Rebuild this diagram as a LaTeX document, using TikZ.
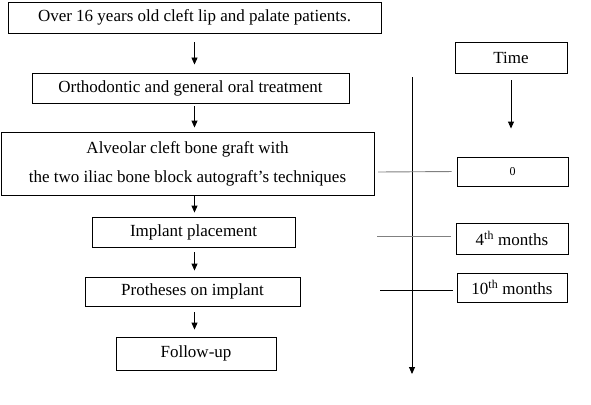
\documentclass[tikz,border=0pt]{standalone}
\usepackage{fontspec}
\setmainfont{Liberation Serif}
\usepackage{xcolor}
\usepackage{tikz}
\usetikzlibrary{arrows.meta}
\definecolor{ink}{HTML}{000000}
\definecolor{tick}{HTML}{808080}
\tikzset{
  stepbox/.style={draw=ink, line width=0.9pt, fill=white, inner sep=0pt, font=\fontsize{17}{20}\selectfont},
  arr/.style={draw=ink, line width=0.9pt, -{Triangle[length=7pt,width=6pt]}},
  tickline/.style={line width=0.9pt}
}
\begin{document}
\begin{tikzpicture}[x=1pt,y=-1pt]
  \useasboundingbox[fill=white] (0,0) rectangle (591,404);

  % treatment steps
  \node[stepbox, minimum width=373pt, minimum height=31pt] (patients) at (194.5,17.5) {Over 16 years old cleft lip and palate patients.};
  \node[stepbox, minimum width=317pt, minimum height=30pt] (ortho) at (190.5,88) {Orthodontic and general oral treatment};
  \node[stepbox, minimum width=373pt, minimum height=63pt, align=center] (graft) at (187.5,163.5)
    {Alveolar cleft bone graft with\\[9pt]the two iliac bone block autograft's techniques};
  \node[stepbox, minimum width=203pt, minimum height=30pt] (implant) at (193.5,232) {Implant placement};
  \node[stepbox, minimum width=215pt, minimum height=29pt] (prosth) at (192.5,291.5) {Protheses on implant};
  \node[stepbox, minimum width=160pt, minimum height=33pt] (follow) at (196,353.5) {Follow-up};

  \draw[arr, shorten <=9pt, shorten >=8pt] (patients.south) -- (patients.south |- ortho.north);
  \draw[arr, shorten <=3pt, shorten >=4pt] (ortho.south -| patients.south) -- (graft.north -| patients.south);
  \draw[arr, shorten <=1pt, shorten >=4pt] (graft.south -| patients.south) -- (implant.north -| patients.south);
  \draw[arr, shorten <=5pt, shorten >=6pt] (implant.south -| patients.south) -- (prosth.north -| patients.south);
  \draw[arr, shorten <=6pt, shorten >=7pt] (prosth.south -| patients.south) -- (follow.north -| patients.south);

  % time scale
  \node[stepbox, minimum width=112pt, minimum height=31pt] (time) at (511,57.5) {Time};
  \node[stepbox, minimum width=111pt, minimum height=29pt, font=\fontsize{12}{14}\selectfont] (m0) at (512.5,171.5) {0};
  \node[stepbox, minimum width=112pt, minimum height=31pt] (m4) at (512,238.5) {4\textsuperscript{th} months};
  \node[stepbox, minimum width=110pt, minimum height=29pt] (m10) at (512,287.5) {10\textsuperscript{th} months};

  \draw[arr, shorten <=7pt, shorten >=28pt] (time.south) -- (time.south |- m0.north);

  \coordinate (axtop) at (412,77);
  \coordinate (axbot) at (412,374);
  \draw[arr] (axtop) -- (axbot);

  \draw[tickline, draw=tick, shorten >=5pt] (378,172) -- (m0.west);
  \draw[tickline, draw=tick, shorten >=5pt] (377,236) -- (m4.west |- 0,236);
  \draw[tickline, draw=ink, shorten >=4pt] (380,290) -- (m10.west |- 0,290);
\end{tikzpicture}
\end{document}
